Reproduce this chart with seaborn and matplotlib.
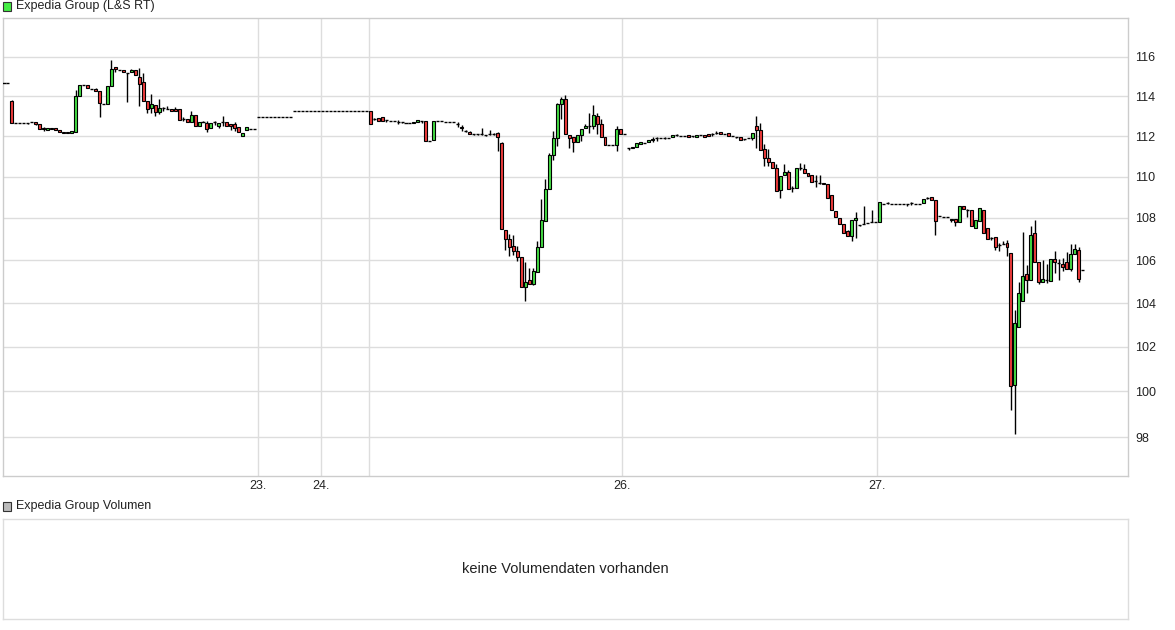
import numpy as np
import matplotlib
matplotlib.use("Agg")
import matplotlib.pyplot as plt
from matplotlib.patches import Rectangle
from matplotlib.ticker import NullLocator, FuncFormatter
import seaborn as sns

# 15-minute candles (one entry per slot)
opens = [
    # 22.
    114.65, 114.65, 113.75, 112.67, 112.67, 112.67, 112.65, 112.68, 112.68, 112.58,
    112.38, 112.28, 112.42, 112.38, 112.28, 112.20, 112.20, 112.15, 112.18, 114.03,
    114.58, 114.55, 114.38, 114.36, 114.24, 113.58, 113.58, 114.50, 115.49, 115.35,
    115.32, 115.20, 115.25, 115.32, 114.97, 114.70, 113.73, 113.38, 113.53, 113.22,
    113.38, 113.37, 113.35, 113.35, 113.33, 112.85, 112.85, 112.68, 113.05, 112.52,
    112.68, 112.65, 112.38, 112.68, 112.50, 112.68, 112.70, 112.60, 112.60, 112.43,
    111.98, 112.32, 112.37, 112.37,
    # 23. / 24.
    112.95, 112.95, 112.95, 112.95, 112.95, 112.95, 112.95, 112.95, 112.95,
    113.26, 113.26, 113.26, 113.26, 113.26, 113.26, 113.26, 113.26, 113.26, 113.26,
    113.26, 113.26, 113.26, 113.26, 113.26, 113.26, 113.26, 113.26, 113.26,
    # 25.
    113.26, 112.83, 112.90, 112.95, 112.78, 112.76, 112.73, 112.72, 112.68, 112.67,
    112.65, 112.63, 112.70, 112.77, 112.76, 111.74, 111.82, 112.76, 112.75, 112.72,
    112.70, 112.70, 112.60, 112.46, 112.25, 112.20, 112.09, 112.09, 112.10, 112.04,
    112.09, 112.09, 112.17,
    111.65, 107.43, 107.00, 106.68, 106.44, 106.16, 104.76, 105.07, 104.87, 105.44,
    106.62, 107.84, 109.40, 111.07, 111.92, 113.58, 113.85, 112.05, 111.95, 111.68,
    112.05, 112.38, 112.52, 112.52, 113.00, 112.58, 111.97, 111.57, 111.55, 111.57,
    112.37, 112.08,
    # 26.
    111.40, 111.40, 111.48, 111.58, 111.67, 111.68, 111.78, 111.88, 111.88, 111.92,
    111.92, 111.93, 112.05, 112.02, 112.02, 112.05, 111.98, 111.95, 112.03, 112.07,
    112.08, 112.08, 112.15, 112.18, 112.12, 112.13, 112.00, 111.95, 111.93, 111.85,
    111.88, 111.92, 112.49, 112.28, 111.35, 110.91,
    110.73, 110.42, 109.35, 110.10, 110.25, 109.44, 109.44, 110.41, 110.38, 110.20,
    110.10, 109.78, 109.70, 109.70, 109.62,
    109.11, 108.35, 108.00, 107.71, 107.37, 107.13, 107.89, 107.65, 107.70, 107.74,
    # 27.
    107.79, 107.81, 107.81, 108.68, 108.71, 108.68, 108.68, 108.68, 108.68, 108.67,
    108.70, 108.68, 108.68, 108.71, 108.98, 109.02, 108.87, 108.08, 108.05, 108.05,
    107.92, 107.97, 107.81, 108.56, 108.37, 108.40, 107.52, 107.87,
    108.38, 107.54, 107.03, 107.10, 106.72, 106.77, 106.83, 106.35, 100.30, 102.88,
    104.08, 105.33, 105.05, 107.26, 105.92, 104.98, 105.07, 105.03, 106.03, 105.87,
    105.82, 105.90, 105.59, 106.31, 106.47, 105.52,
]

highs = [
    114.65, 114.65, 113.80, 112.67, 112.67, 112.67, 112.65, 112.68, 112.68, 112.58,
    112.47, 112.38, 112.42, 112.38, 112.28, 112.22, 112.20, 112.25, 114.29, 114.58,
    114.58, 114.55, 114.38, 114.41, 114.24, 113.58, 114.50, 115.85, 115.49, 115.35,
    115.32, 115.20, 115.40, 115.32, 115.45, 115.16, 113.73, 114.10, 113.53, 113.83,
    113.47, 113.50, 113.35, 113.45, 113.33, 112.95, 112.85, 113.23, 113.05, 112.70,
    112.75, 112.75, 112.65, 112.75, 112.63, 112.98, 112.70, 112.60, 112.68, 112.43,
    112.15, 112.43, 112.37, 112.37,
    112.95, 112.95, 112.95, 112.95, 112.95, 112.95, 112.95, 112.95, 112.95,
    113.26, 113.26, 113.26, 113.26, 113.26, 113.26, 113.26, 113.26, 113.26, 113.26,
    113.26, 113.26, 113.26, 113.26, 113.26, 113.26, 113.26, 113.26, 113.26,
    113.26, 112.90, 112.90, 112.95, 112.78, 112.76, 112.73, 112.80, 112.72, 112.67,
    112.65, 112.70, 112.80, 112.77, 112.76, 111.74, 112.74, 112.76, 112.75, 112.72,
    112.70, 112.70, 112.68, 112.56, 112.30, 112.25, 112.12, 112.12, 112.40, 112.04,
    112.30, 112.15, 112.22,
    111.72, 107.43, 107.24, 107.20, 106.65, 106.16, 105.90, 105.62, 105.65, 106.88,
    108.92, 109.90, 111.17, 112.24, 113.67, 113.95, 114.05, 112.05, 111.95, 112.05,
    112.35, 112.62, 113.17, 113.55, 113.17, 112.83, 111.97, 111.57, 111.55, 112.50,
    112.37, 112.08,
    111.40, 111.48, 111.63, 111.68, 111.67, 111.78, 111.95, 111.97, 111.88, 111.95,
    111.92, 112.03, 112.10, 112.02, 112.02, 112.05, 111.98, 112.05, 112.03, 112.07,
    112.08, 112.17, 112.23, 112.18, 112.12, 112.13, 112.00, 111.95, 111.93, 111.85,
    111.88, 112.13, 113.02, 112.63, 111.59, 111.35,
    110.73, 110.60, 110.03, 110.62, 110.30, 109.56, 110.42, 110.68, 110.60, 110.20,
    110.10, 110.08, 110.09, 109.70, 109.62,
    109.11, 108.35, 108.00, 107.71, 107.45, 107.92, 108.29, 107.65, 108.56, 107.74,
    108.40, 107.81, 108.76, 108.68, 108.79, 108.68, 108.68, 108.68, 108.68, 108.67,
    108.77, 108.68, 108.68, 108.90, 109.03, 109.02, 108.87, 108.08, 108.05, 108.05,
    107.97, 107.97, 108.56, 108.56, 108.44, 108.40, 107.89, 108.49,
    108.38, 107.54, 107.10, 107.10, 106.80, 106.90, 106.95, 106.35, 103.68, 104.99,
    107.34, 105.75, 107.60, 107.92, 105.92, 106.00, 105.80, 106.06, 106.42, 106.03,
    106.10, 106.39, 106.78, 106.78, 106.62, 105.52,
]

lows = [
    114.65, 114.65, 112.63, 112.67, 112.67, 112.67, 112.60, 112.68, 112.55, 112.37,
    112.27, 112.28, 112.33, 112.28, 112.18, 112.15, 112.13, 112.15, 112.18, 114.03,
    114.58, 114.41, 114.38, 114.26, 112.97, 113.58, 113.58, 114.50, 115.21, 115.35,
    115.21, 113.72, 115.25, 115.06, 113.50, 113.73, 113.15, 113.15, 112.98, 113.12,
    113.27, 113.33, 113.27, 113.27, 112.82, 112.73, 112.72, 112.68, 112.52, 112.52,
    112.68, 112.18, 112.38, 112.55, 112.42, 112.48, 112.52, 112.28, 112.23, 112.20,
    111.98, 112.32, 112.37, 112.37,
    112.95, 112.95, 112.95, 112.95, 112.95, 112.95, 112.95, 112.95, 112.95,
    113.26, 113.26, 113.26, 113.26, 113.26, 113.26, 113.26, 113.26, 113.26, 113.26,
    113.26, 113.26, 113.26, 113.26, 113.26, 113.26, 113.26, 113.26, 113.26,
    112.60, 112.78, 112.73, 112.73, 112.72, 112.76, 112.73, 112.60, 112.65, 112.67,
    112.65, 112.63, 112.70, 112.67, 111.74, 111.74, 111.82, 112.76, 112.75, 112.72,
    112.70, 112.70, 112.47, 112.27, 112.20, 112.10, 112.06, 112.06, 112.04, 111.98,
    112.04, 112.04, 111.25,
    107.48, 106.49, 106.18, 106.22, 105.94, 104.76, 104.10, 104.87, 104.85, 105.44,
    106.62, 107.84, 109.40, 110.80, 111.52, 112.83, 112.08, 111.39, 111.20, 111.68,
    111.73, 112.38, 112.17, 112.33, 112.08, 111.95, 111.57, 111.57, 111.55, 111.28,
    112.08, 112.08,
    111.33, 111.40, 111.48, 111.58, 111.67, 111.68, 111.72, 111.77, 111.88, 111.87,
    111.92, 111.93, 111.98, 112.02, 112.02, 111.95, 111.93, 111.95, 112.03, 111.97,
    111.98, 112.02, 112.08, 112.08, 112.12, 111.98, 112.00, 111.88, 111.82, 111.82,
    111.88, 111.80, 111.43, 111.30, 110.50, 110.50,
    110.42, 109.32, 108.94, 110.10, 109.40, 109.27, 109.44, 110.30, 110.18, 110.02,
    109.75, 109.50, 109.62, 109.62, 108.98,
    108.37, 108.03, 107.71, 107.29, 107.13, 106.89, 107.06, 107.60, 107.70, 107.74,
    107.79, 107.81, 107.81, 108.68, 108.65, 108.68, 108.68, 108.68, 108.68, 108.56,
    108.63, 108.68, 108.68, 108.71, 108.92, 108.87, 107.20, 108.08, 108.05, 108.05,
    107.80, 107.60, 107.81, 108.43, 108.06, 107.60, 107.52, 107.87,
    107.28, 107.00, 106.96, 106.47, 106.42, 106.77, 106.20, 99.16, 98.14, 102.88,
    104.08, 104.45, 105.05, 105.92, 104.88, 104.98, 104.95, 105.03, 105.40, 105.07,
    105.50, 105.59, 105.48, 106.31, 104.97, 105.52,
]

closes = [
    114.65, 114.65, 112.63, 112.67, 112.67, 112.67, 112.65, 112.68, 112.60, 112.37,
    112.34, 112.38, 112.33, 112.28, 112.18, 112.15, 112.13, 112.25, 114.03, 114.58,
    114.58, 114.41, 114.38, 114.26, 113.67, 113.58, 114.50, 115.37, 115.38, 115.35,
    115.21, 115.20, 115.32, 115.06, 114.63, 113.73, 113.37, 113.60, 113.22, 113.40,
    113.38, 113.37, 113.27, 113.27, 112.82, 112.85, 112.72, 113.05, 112.52, 112.70,
    112.68, 112.37, 112.65, 112.68, 112.63, 112.68, 112.52, 112.48, 112.40, 112.20,
    112.15, 112.43, 112.37, 112.37,
    112.95, 112.95, 112.95, 112.95, 112.95, 112.95, 112.95, 112.95, 112.95,
    113.26, 113.26, 113.26, 113.26, 113.26, 113.26, 113.26, 113.26, 113.26, 113.26,
    113.26, 113.26, 113.26, 113.26, 113.26, 113.26, 113.26, 113.26, 113.26,
    112.60, 112.83, 112.73, 112.73, 112.78, 112.76, 112.73, 112.72, 112.68, 112.67,
    112.65, 112.70, 112.80, 112.77, 111.74, 111.74, 112.74, 112.76, 112.75, 112.72,
    112.70, 112.70, 112.60, 112.40, 112.25, 112.12, 112.09, 112.09, 112.10, 112.04,
    112.09, 112.09, 111.95,
    107.48, 107.00, 106.62, 106.41, 106.17, 104.76, 104.98, 104.87, 105.50, 106.60,
    107.92, 109.40, 111.07, 111.92, 113.58, 113.85, 112.08, 111.92, 111.68, 112.05,
    112.35, 112.52, 112.52, 113.03, 112.58, 111.95, 111.57, 111.57, 111.55, 112.37,
    112.08, 112.08,
    111.40, 111.48, 111.63, 111.68, 111.67, 111.78, 111.87, 111.88, 111.88, 111.92,
    111.92, 112.03, 112.05, 112.02, 112.02, 111.95, 111.98, 112.05, 112.03, 111.97,
    111.98, 112.08, 112.15, 112.08, 112.12, 111.98, 112.00, 111.95, 111.82, 111.85,
    111.88, 112.13, 112.28, 111.30, 110.89, 110.70,
    110.42, 109.32, 110.03, 110.25, 109.40, 109.44, 110.42, 110.41, 110.18, 110.02,
    109.75, 109.78, 109.70, 109.62, 108.98,
    108.37, 108.03, 107.71, 107.29, 107.13, 107.92, 108.00, 107.65, 107.70, 107.74,
    107.79, 107.81, 108.76, 108.68, 108.71, 108.68, 108.68, 108.68, 108.68, 108.67,
    108.70, 108.68, 108.68, 108.90, 108.98, 108.87, 107.84, 108.08, 108.05, 108.05,
    107.97, 107.81, 108.56, 108.43, 108.37, 107.60, 107.89, 108.49,
    107.28, 107.00, 107.03, 106.61, 106.72, 106.77, 106.61, 100.24, 103.07, 104.48,
    105.27, 105.05, 107.21, 105.92, 104.98, 105.10, 105.07, 106.03, 105.92, 105.87,
    105.67, 105.59, 106.31, 106.53, 105.13, 105.52,
]

# day separators (slot positions) and their labels
day_pos = [63.9, 79.7, 91.8, 155.2, 219.4]
day_labels = ["23.", "24.", "", "26.", "27."]
price_ticks = [98, 100, 102, 104, 106, 108, 110, 112, 114, 116]

RED = "#f03c3c"
GREEN = "#44dd44"
GRID = "#dddddd"

sns.set_style("white")
plt.rcParams['font.family'] = ['Liberation Sans', 'DejaVu Sans']

o = np.array(opens)
h = np.array(highs)
l = np.array(lows)
c = np.array(closes)
x = np.arange(len(o))

W, H = 1175, 630
fig = plt.figure(figsize=(W / 100, H / 100), dpi=100)

# price panel
ax = fig.add_axes([3 / W, 1 - 476 / H, 1125 / W, 458 / H])
ax.set_yscale('log')
ax.set_ylim(96.32, 118.02)
ax.set_xlim(-0.25, 282.4)

ax.set_yticks(price_ticks)
ax.yaxis.set_minor_locator(NullLocator())
ax.yaxis.set_major_formatter(FuncFormatter(lambda v, p: f"{v:.0f}"))
ax.yaxis.tick_right()
ax.set_xticks(day_pos)
ax.set_xticklabels(day_labels)
ax.tick_params(axis='both', length=0, labelsize=9, colors='#222222')
ax.tick_params(axis='y', pad=5)
ax.tick_params(axis='x', pad=3)
ax.grid(True, color=GRID, lw=1)
ax.set_axisbelow(True)
for s in ax.spines.values():
    s.set_color('#cccccc')
    s.set_linewidth(1)

lo = np.minimum(l, np.minimum(o, c))
hi = np.maximum(h, np.maximum(o, c))
ax.vlines(x, lo, hi, color='black', lw=1, zorder=2)

up = c > o
dn = c < o
fl = c == o
ax.bar(x[up], c[up] - o[up], bottom=o[up], width=0.75, color=GREEN,
       edgecolor='black', linewidth=0.8, zorder=3)
ax.bar(x[dn], o[dn] - c[dn], bottom=c[dn], width=0.75, color=RED,
       edgecolor='black', linewidth=0.8, zorder=3)
ax.hlines(c[fl], x[fl] - 0.38, x[fl] + 0.38, color='black', lw=1, zorder=3)

# header
fig.add_artist(Rectangle((3 / W, 1 - 11 / H), 8 / W, 9 / H, transform=fig.transFigure,
                         facecolor='#44ee44', edgecolor='#333333', lw=0.8))
fig.text(16 / W, 1 - 6.5 / H, "Expedia Group (L&S RT)", fontsize=9, va='center',
         ha='left', color='#222222')

# volume panel
fig.add_artist(Rectangle((3 / W, 1 - 511 / H), 8 / W, 9 / H, transform=fig.transFigure,
                         facecolor='#bbbbbb', edgecolor='#333333', lw=0.8))
fig.text(16 / W, 1 - 506.5 / H, "Expedia Group Volumen", fontsize=9, va='center',
         ha='left', color='#222222')
ax2 = fig.add_axes([3 / W, 1 - 619 / H, 1125 / W, 100 / H])
ax2.set_xticks([])
ax2.set_yticks([])
for s in ax2.spines.values():
    s.set_color(GRID)
    s.set_linewidth(1)
ax2.text(0.5, 0.5, "keine Volumendaten vorhanden", ha='center', va='center',
         fontsize=10.5, color='#222222', transform=ax2.transAxes)

fig.savefig("out.png", dpi=100)
